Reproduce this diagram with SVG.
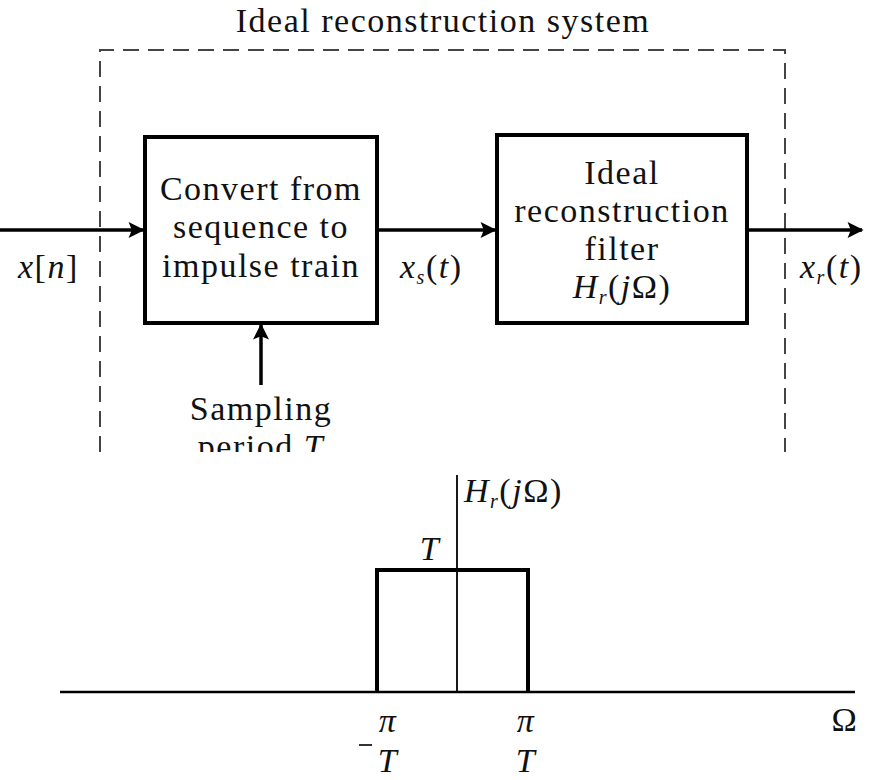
<svg xmlns="http://www.w3.org/2000/svg" width="876" height="780" viewBox="0 0 876 780">
<defs>
<style>
text{font-family:"Liberation Serif","Times New Roman",serif;font-size:34px;letter-spacing:1.5px;fill:#111}
.c{text-anchor:middle}
.i{font-style:italic}
.box{fill:none;stroke:#000;stroke-width:4}
.ln{stroke:#000;stroke-width:3.5;fill:none}
.dash{stroke:#444;stroke-width:2;stroke-dasharray:16 9;fill:none}
</style>
<marker id="ah" viewBox="0 0 10 10" refX="9" refY="5" markerWidth="24" markerHeight="16" markerUnits="userSpaceOnUse" orient="auto">
<path d="M0,0 L10,5 L0,10 L2,5 z" fill="#000"/>
</marker>
<clipPath id="cut"><rect x="0" y="0" width="876" height="452"/></clipPath>
</defs>
<rect width="876" height="780" fill="#fff"/>

<g id="system">
<text x="443" y="32" class="c">Ideal reconstruction system</text>
<path class="dash" d="M100,452 V50 H785 V452"/>
</g>

<g id="convert">
<rect class="box" x="145" y="137" width="232" height="186"/>
<text x="261" y="200" class="c">Convert from</text>
<text x="261" y="238" class="c">sequence to</text>
<text x="261" y="277" class="c">impulse train</text>
</g>

<g id="filter">
<rect class="box" x="497" y="135" width="250" height="188"/>
<text x="622" y="184" class="c">Ideal</text>
<text x="622" y="222" class="c">reconstruction</text>
<text x="622" y="260" class="c">filter</text>
<text x="622" y="298" class="c"><tspan class="i">H</tspan><tspan class="i" font-size="20" dy="6">r</tspan><tspan dy="-6">(</tspan><tspan class="i">j</tspan>Ω)</text>
</g>

<g id="sampling" clip-path="url(#cut)">
<text x="261" y="420" class="c">Sampling</text>
<text x="261" y="458" class="c">period <tspan class="i">T</tspan></text>
</g>

<g id="connectors">
<line class="ln" x1="0" y1="230" x2="143" y2="230" marker-end="url(#ah)"/>
<line class="ln" x1="377" y1="230" x2="495" y2="230" marker-end="url(#ah)"/>
<line class="ln" x1="747" y1="230" x2="862" y2="230" marker-end="url(#ah)"/>
<line class="ln" x1="261" y1="385" x2="261" y2="325" marker-end="url(#ah)"/>
</g>

<g id="labels">
<text x="18" y="278" class="i">x<tspan font-style="normal">[</tspan>n<tspan font-style="normal">]</tspan></text>
<text x="400" y="278" class="i">x<tspan font-size="20" dy="6">s</tspan><tspan font-style="normal" dy="-6">(</tspan>t<tspan font-style="normal">)</tspan></text>
<text x="800" y="278" class="i">x<tspan font-size="20" dy="6">r</tspan><tspan font-style="normal" dy="-6">(</tspan>t<tspan font-style="normal">)</tspan></text>
</g>

<g id="plot">
<line stroke="#000" stroke-width="2.5" x1="60" y1="692" x2="855" y2="692"/>
<line stroke="#000" stroke-width="1.8" x1="457" y1="475" x2="457" y2="692"/>
<path stroke="#000" stroke-width="4" fill="none" d="M377,692 V570 H528 V692"/>
<text x="464" y="502"><tspan class="i">H</tspan><tspan class="i" font-size="20" dy="6">r</tspan><tspan dy="-6">(</tspan><tspan class="i">j</tspan>Ω)</text>
<text x="430" y="560" class="c i">T</text>
<text x="845" y="731" class="c">Ω</text>
<text x="388" y="732" class="c i">π</text>
<text x="388" y="772" class="c i">T</text>
<line stroke="#333" stroke-width="2" x1="359" y1="745" x2="372" y2="745"/>
<text x="526" y="732" class="c i">π</text>
<text x="526" y="772" class="c i">T</text>
</g>
</svg>
